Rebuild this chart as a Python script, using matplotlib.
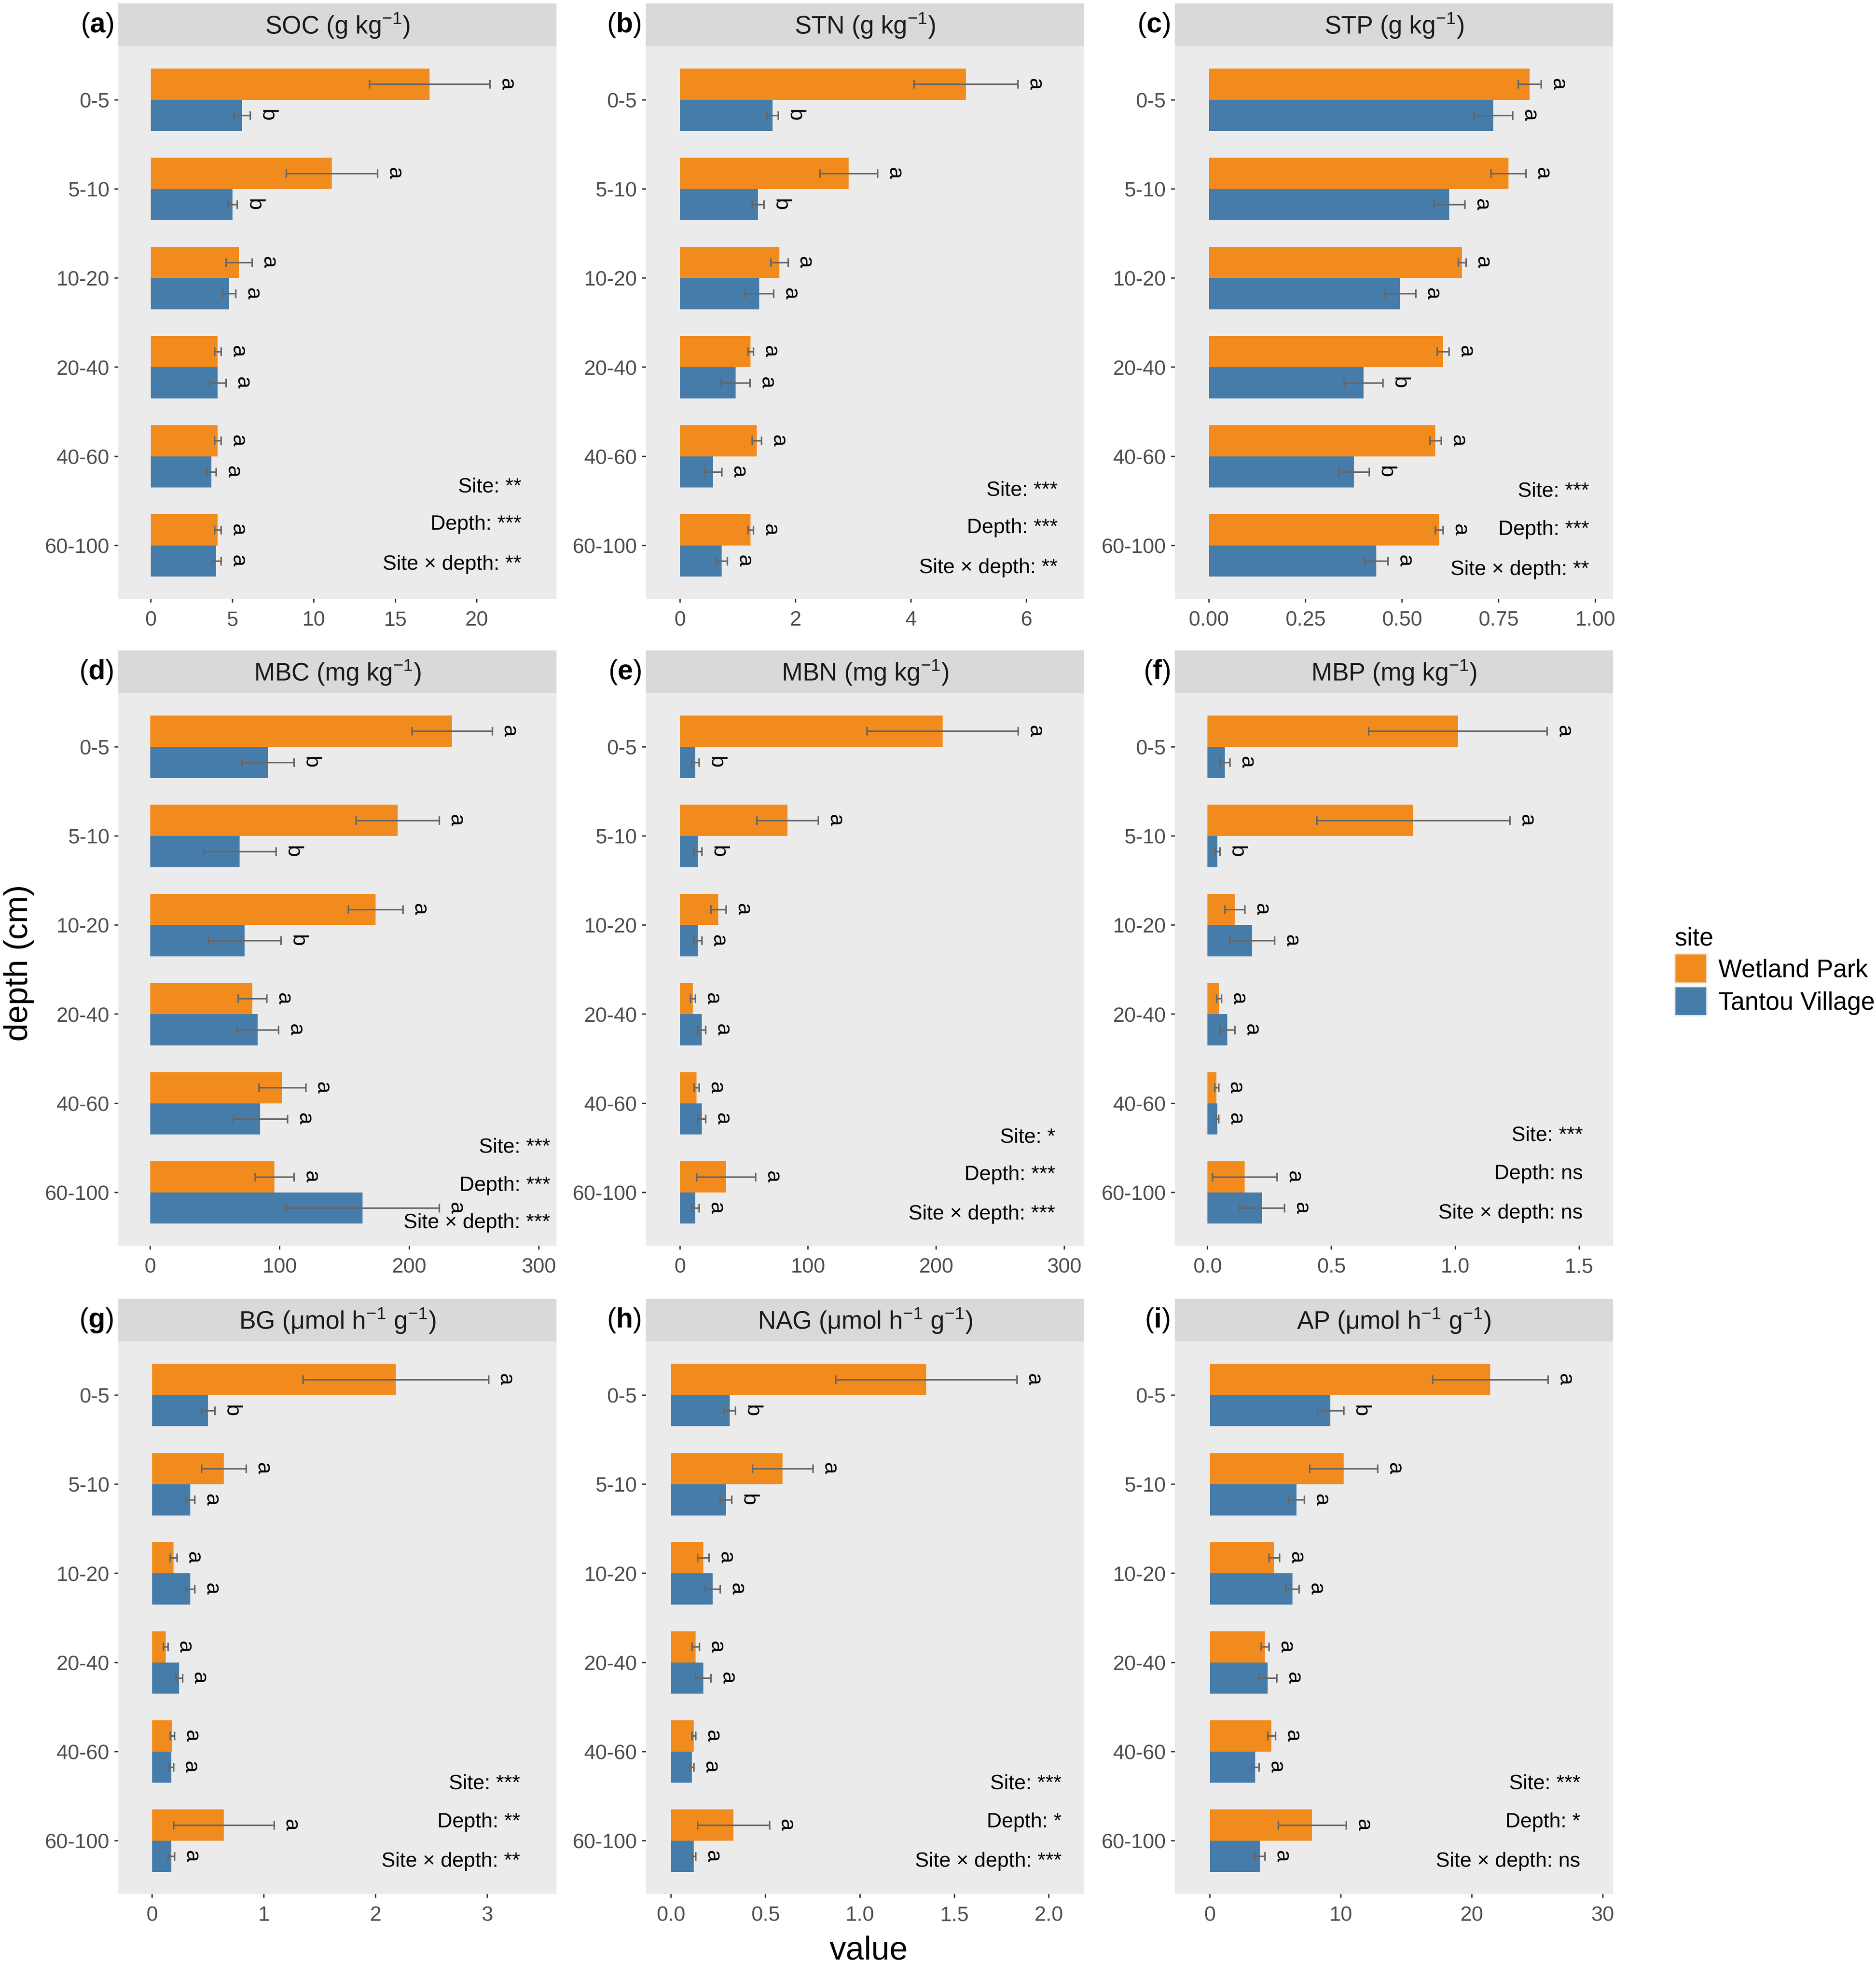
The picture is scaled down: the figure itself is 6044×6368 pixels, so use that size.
import matplotlib.pyplot as plt
from matplotlib.patches import Patch
import matplotlib.transforms as mtransforms
import numpy as np

plt.rcParams['font.family'] = ['Liberation Sans', 'DejaVu Sans']
plt.rcParams['mathtext.fontset'] = 'custom'
plt.rcParams['mathtext.rm'] = 'Liberation Sans'
plt.rcParams['mathtext.bf'] = 'Liberation Sans:bold'
plt.rcParams['mathtext.it'] = 'Liberation Sans:italic'

# ---- data ----
depths = ['0-5', '5-10', '10-20', '20-40', '40-60', '60-100']
sites = ['Wetland Park', 'Tantou Village']

soc_wp = [17.1, 11.1, 5.4, 4.1, 4.1, 4.1]
soc_wp_se = [3.7, 2.8, 0.8, 0.2, 0.2, 0.2]
soc_tv = [5.6, 5.0, 4.8, 4.1, 3.7, 4.0]
soc_tv_se = [0.5, 0.3, 0.4, 0.5, 0.3, 0.3]

stn_wp = [4.95, 2.92, 1.72, 1.22, 1.33, 1.22]
stn_wp_se = [0.9, 0.5, 0.15, 0.05, 0.08, 0.05]
stn_tv = [1.6, 1.35, 1.37, 0.96, 0.57, 0.72]
stn_tv_se = [0.1, 0.1, 0.25, 0.25, 0.15, 0.1]

stp_wp = [0.83, 0.775, 0.655, 0.606, 0.586, 0.596]
stp_wp_se = [0.03, 0.045, 0.01, 0.015, 0.015, 0.01]
stp_tv = [0.736, 0.622, 0.495, 0.40, 0.375, 0.433]
stp_tv_se = [0.05, 0.04, 0.04, 0.05, 0.04, 0.03]

mbc_wp = [233, 191, 174, 79, 102, 96]
mbc_wp_se = [31, 32, 21, 11, 18, 15]
mbc_tv = [91, 69, 73, 83, 85, 164]
mbc_tv_se = [20, 28, 28, 16, 21, 59]

mbn_wp = [205, 84, 30, 10, 13, 36]
mbn_wp_se = [59, 24, 6, 2, 2, 23]
mbn_tv = [12, 14, 14, 17, 17, 12]
mbn_tv_se = [3, 3, 3, 3, 3, 3]

mbp_wp = [1.01, 0.83, 0.11, 0.046, 0.036, 0.15]
mbp_wp_se = [0.36, 0.39, 0.04, 0.01, 0.008, 0.13]
mbp_tv = [0.07, 0.04, 0.18, 0.08, 0.04, 0.22]
mbp_tv_se = [0.02, 0.01, 0.09, 0.03, 0.005, 0.09]

bg_wp = [2.18, 0.64, 0.19, 0.12, 0.18, 0.64]
bg_wp_se = [0.83, 0.2, 0.03, 0.02, 0.02, 0.45]
bg_tv = [0.5, 0.34, 0.34, 0.24, 0.17, 0.17]
bg_tv_se = [0.06, 0.04, 0.04, 0.03, 0.02, 0.03]

nag_wp = [1.35, 0.59, 0.17, 0.13, 0.12, 0.33]
nag_wp_se = [0.48, 0.16, 0.03, 0.02, 0.01, 0.19]
nag_tv = [0.31, 0.29, 0.22, 0.17, 0.11, 0.12]
nag_tv_se = [0.03, 0.03, 0.04, 0.04, 0.01, 0.01]

ap_wp = [21.4, 10.2, 4.9, 4.2, 4.7, 7.8]
ap_wp_se = [4.4, 2.6, 0.4, 0.3, 0.3, 2.6]
ap_tv = [9.2, 6.6, 6.3, 4.4, 3.45, 3.8]
ap_tv_se = [1.0, 0.6, 0.5, 0.7, 0.3, 0.4]

let_wp = ['a', 'a', 'a', 'a', 'a', 'a']
soc_let_tv = ['b', 'b', 'a', 'a', 'a', 'a']
stn_let_tv = ['b', 'b', 'a', 'a', 'a', 'a']
stp_let_tv = ['a', 'a', 'a', 'b', 'b', 'a']
mbc_let_tv = ['b', 'b', 'b', 'a', 'a', 'a']
mbn_let_tv = ['b', 'b', 'a', 'a', 'a', 'a']
mbp_let_tv = ['a', 'b', 'a', 'a', 'a', 'a']
bg_let_tv = ['b', 'a', 'a', 'a', 'a', 'a']
nag_let_tv = ['b', 'b', 'a', 'a', 'a', 'a']
ap_let_tv = ['b', 'a', 'a', 'a', 'a', 'a']

titles = ['SOC (g kg$^{-1}$)', 'STN (g kg$^{-1}$)', 'STP (g kg$^{-1}$)',
          'MBC (mg kg$^{-1}$)', 'MBN (mg kg$^{-1}$)', 'MBP (mg kg$^{-1}$)',
          'BG (μmol h$^{-1}$ g$^{-1}$)', 'NAG (μmol h$^{-1}$ g$^{-1}$)',
          'AP (μmol h$^{-1}$ g$^{-1}$)']
tags = ['a', 'b', 'c', 'd', 'e', 'f', 'g', 'h', 'i']
sig_site = ['**', '***', '***', '***', '*', '***', '***', '***', '***']
sig_depth = ['***', '***', '***', '***', '***', 'ns', '**', '*', '*']
sig_inter = ['**', '**', '**', '***', '***', 'ns', '**', '***', 'ns']

xticks = [[0, 5, 10, 15, 20], [0, 2, 4, 6], [0, 0.25, 0.5, 0.75, 1.0],
          [0, 100, 200, 300], [0, 100, 200, 300], [0, 0.5, 1.0, 1.5],
          [0, 1, 2, 3], [0, 0.5, 1.0, 1.5, 2.0], [0, 10, 20, 30]]
xticklabels = [['0', '5', '10', '15', '20'], ['0', '2', '4', '6'],
               ['0.00', '0.25', '0.50', '0.75', '1.00'],
               ['0', '100', '200', '300'], ['0', '100', '200', '300'],
               ['0.0', '0.5', '1.0', '1.5'], ['0', '1', '2', '3'],
               ['0.0', '0.5', '1.0', '1.5', '2.0'], ['0', '10', '20', '30']]

panels = [
    (soc_wp, soc_wp_se, soc_tv, soc_tv_se, soc_let_tv),
    (stn_wp, stn_wp_se, stn_tv, stn_tv_se, stn_let_tv),
    (stp_wp, stp_wp_se, stp_tv, stp_tv_se, stp_let_tv),
    (mbc_wp, mbc_wp_se, mbc_tv, mbc_tv_se, mbc_let_tv),
    (mbn_wp, mbn_wp_se, mbn_tv, mbn_tv_se, mbn_let_tv),
    (mbp_wp, mbp_wp_se, mbp_tv, mbp_tv_se, mbp_let_tv),
    (bg_wp, bg_wp_se, bg_tv, bg_tv_se, bg_let_tv),
    (nag_wp, nag_wp_se, nag_tv, nag_tv_se, nag_let_tv),
    (ap_wp, ap_wp_se, ap_tv, ap_tv_se, ap_let_tv),
]

# ---- layout (reference measured on a 1490 x 1570 grid) ----
W, H = 1490.0, 1570.0
xlims = [(-2.0, 24.9), (-0.59, 7.0), (-0.088, 1.046),
         (-24.5, 313.7), (-26.5, 315.6), (-0.132, 1.637),
         (-0.303, 3.62), (-0.133, 2.187), (-2.68, 30.78)]
col_left = [94, 513, 933]
panel_top = [37, 551, 1066]
panel_w, panel_h, strip_h = 348, 439, 34
stat_y = [(5.34, 5.76, 6.21), (5.38, 5.80, 6.25), (5.39, 5.82, 6.27),
          (5.49, 5.92, 6.34), (5.38, 5.80, 6.24), (5.36, 5.79, 6.23),
          (5.36, 5.79, 6.23), (5.36, 5.79, 6.23), (5.36, 5.79, 6.23)]
stat_pad = [28, 21, 19, 5, 23, 24, 29, 18, 26]

orange = '#F28B1E'
blue = '#467CA9'

fig = plt.figure(figsize=(7556 / 500, 7961 / 500), dpi=400)
y = np.arange(1, len(depths) + 1)
bw = 0.35

for k, (wp, wp_se, tv, tv_se, let_tv) in enumerate(panels):
    r, c = divmod(k, 3)
    left = col_left[c] / W
    bottom = 1 - (panel_top[r] + panel_h) / H
    ax = fig.add_axes([left, bottom, panel_w / W, panel_h / H])
    ax.set_facecolor('#EBEBEB')
    for s in ax.spines.values():
        s.set_visible(False)

    ax.barh(y - bw / 2, wp, height=bw, color=orange)
    ax.barh(y + bw / 2, tv, height=bw, color=blue)
    ax.errorbar(wp, y - bw / 2, xerr=wp_se, fmt='none', ecolor='#666666',
                elinewidth=0.9, capsize=2.6, capthick=0.9)
    ax.errorbar(tv, y + bw / 2, xerr=tv_se, fmt='none', ecolor='#666666',
                elinewidth=0.9, capsize=2.6, capthick=0.9)

    off = mtransforms.offset_copy(ax.transData, fig=fig, x=4, y=0, units='points')
    for i in range(len(depths)):
        ax.text(wp[i] + wp_se[i], y[i] - bw / 2, let_wp[i], transform=off,
                rotation=-90, ha='left', va='center', fontsize=12.5)
        ax.text(tv[i] + tv_se[i], y[i] + bw / 2, let_tv[i], transform=off,
                rotation=-90, ha='left', va='center', fontsize=12.5)

    tr = mtransforms.blended_transform_factory(ax.transAxes, ax.transData)
    xr = 1 - stat_pad[k] / panel_w
    labels = ['Site: ' + sig_site[k], 'Depth: ' + sig_depth[k],
              'Site × depth: ' + sig_inter[k]]
    for lab, yy in zip(labels, stat_y[k]):
        ax.text(xr, yy, lab, transform=tr, ha='right', va='center', fontsize=12)

    ax.set_xlim(*xlims[k])
    ax.set_ylim(6.6, 0.4)
    ax.set_yticks(y)
    ax.set_yticklabels(depths)
    ax.set_xticks(xticks[k])
    ax.set_xticklabels(xticklabels[k])
    ax.tick_params(axis='both', length=2.2, width=0.8, color='#333333',
                   labelcolor='#4D4D4D', labelsize=12, pad=3)
    ax.tick_params(axis='x', pad=4.5)

    # strip
    sax = fig.add_axes([left, bottom + panel_h / H, panel_w / W, strip_h / H])
    sax.set_facecolor('#D9D9D9')
    sax.set_xticks([])
    sax.set_yticks([])
    for s in sax.spines.values():
        s.set_visible(False)
    sax.text(0.5, 0.5, titles[k], ha='center', va='center', fontsize=14.5,
             color='#1A1A1A', transform=sax.transAxes)

    fig.text(left - 4 / W, 1 - (panel_top[r] - strip_h / 2) / H,
             r'($\mathbf{' + tags[k] + r'}$)', ha='right', va='center',
             fontsize=16)

fig.text(15 / W, 1 - 765 / H, 'depth (cm)', rotation=90, ha='center',
         va='center', fontsize=19)
fig.text(690 / W, 1 - 1550 / H, 'value', ha='center', va='center', fontsize=19)

handles = [Patch(facecolor=orange, edgecolor='#F2F2F2', linewidth=1.0),
           Patch(facecolor=blue, edgecolor='#F2F2F2', linewidth=1.0)]
leg = fig.legend(handles, sites, title='site', loc='center left',
                 bbox_to_anchor=(1322 / W, 1 - 772 / H), frameon=False,
                 fontsize=14.5, title_fontsize=14.5, handlelength=1.3,
                 handleheight=1.45, labelspacing=0.12, handletextpad=0.45,
                 borderaxespad=0)
leg._legend_box.align = 'left'

fig.savefig('out.png', dpi=400, facecolor='white')
